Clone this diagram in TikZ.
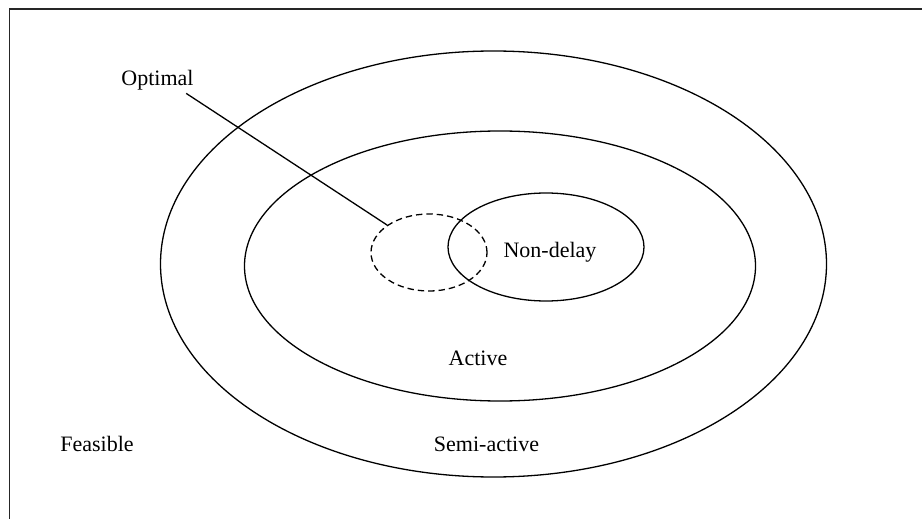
\documentclass[tikz,border=0pt]{standalone}
\usepackage{fontspec}
\setmainfont{Liberation Serif}
\usetikzlibrary{shapes.geometric}
\tikzset{
  region/.style={ellipse, draw=black, line width=0.65pt, inner sep=0pt},
  lbl/.style={font=\fontsize{11}{13}\selectfont, inner sep=1.5pt},
  lead/.style={draw=black, line width=0.65pt},
}

\begin{document}
\begin{tikzpicture}[x=0.5pt, y=-0.5pt,
        frame/.style={draw=black!85, line width=0.9pt},
        guess/.style={region, dash pattern=on 3.2pt off 2pt}]
  \useasboundingbox (0,0) rectangle (922,519);
  % outer frame (cropped on the right and bottom)
  \draw[frame] (9.5,519) |- (922,8.7);
  % nested schedule sets
  \node[region, minimum width=333pt, minimum height=213pt] (semiactive) at (493.5,264) {};
  \node[region, minimum width=255.5pt, minimum height=135pt] (active) at (500,266) {};
  \node[region, minimum width=98pt, minimum height=54pt] (nondelay) at (546,247) {};
  \node[guess, minimum width=58pt, minimum height=38.5pt] (optset) at (429,252.5) {};
  % labels
  \node[lbl] (ndlabel) at (550,252) {Non-delay};
  \node[lbl] (actlabel) at (478,358) {Active};
  \node[lbl] (semilabel) at (486.5,444) {Semi-active};
  \node[lbl] (feaslabel) at (97,444) {Feasible};
  \node[lbl] (optlabel) at (157.5,80) {Optimal};
  \draw[lead] (optlabel.-25) -- (optset);
\end{tikzpicture}
\end{document}
